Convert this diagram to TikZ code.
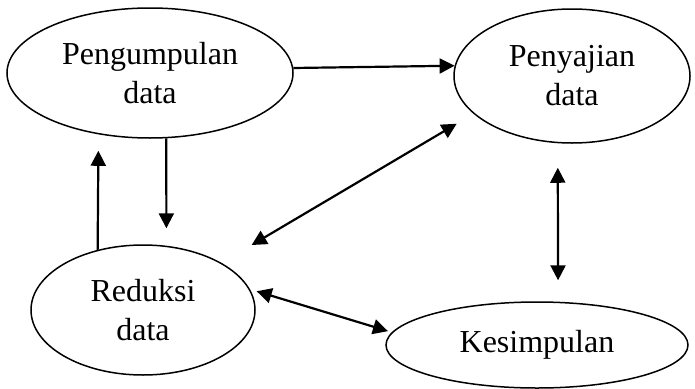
\documentclass[tikz,border=0pt]{standalone}
\usepackage{fontspec}
\setmainfont{Liberation Serif}
\usetikzlibrary{shapes.geometric,arrows.meta}
\tikzset{
  stage/.style={ellipse,draw=black,line width=1.5pt,inner sep=0pt,align=center,
    font=\fontsize{32}{39}\selectfont},
  arr/.style={line width=2.2pt,-{Triangle[length=15pt,width=15pt]}},
  darr/.style={line width=2.2pt,{Triangle[length=15pt,width=15pt]}-{Triangle[length=15pt,width=15pt]}}
}
\begin{document}
\begin{tikzpicture}[x=1pt,y=-1pt]
\useasboundingbox (0,0) rectangle (695,388);
\node[stage,minimum width=286pt,minimum height=130pt] (peng) at (150,73) {Pengumpulan\\data};
\node[stage,minimum width=236pt,minimum height=134pt] (pen) at (572,76) {Penyajian\\data};
\node[stage,minimum width=224pt,minimum height=130pt] (red) at (143,310) {Reduksi\\data};
\node[stage,minimum width=302pt,minimum height=86pt] (kes) at (537,345) {Kesimpulan};
\draw[arr] (peng.2.4) -- (pen.175.6);
\draw[arr,shorten >=17.4pt] (peng.-76) -- (red.70);
\draw[arr,shorten >=16.4pt] (red.127) -- (peng.-130.6);
\draw[darr,shorten <=19.5pt,shorten >=35pt] (pen.-159.7) -- (red.31.5);
\draw[darr,shorten <=7pt,shorten >=4pt] (red.11.9) -- (kes.175.8);
\draw[darr,shorten <=24.5pt,shorten >=21.4pt] (pen.-102.7) -- (kes.64.8);
\end{tikzpicture}
\end{document}
